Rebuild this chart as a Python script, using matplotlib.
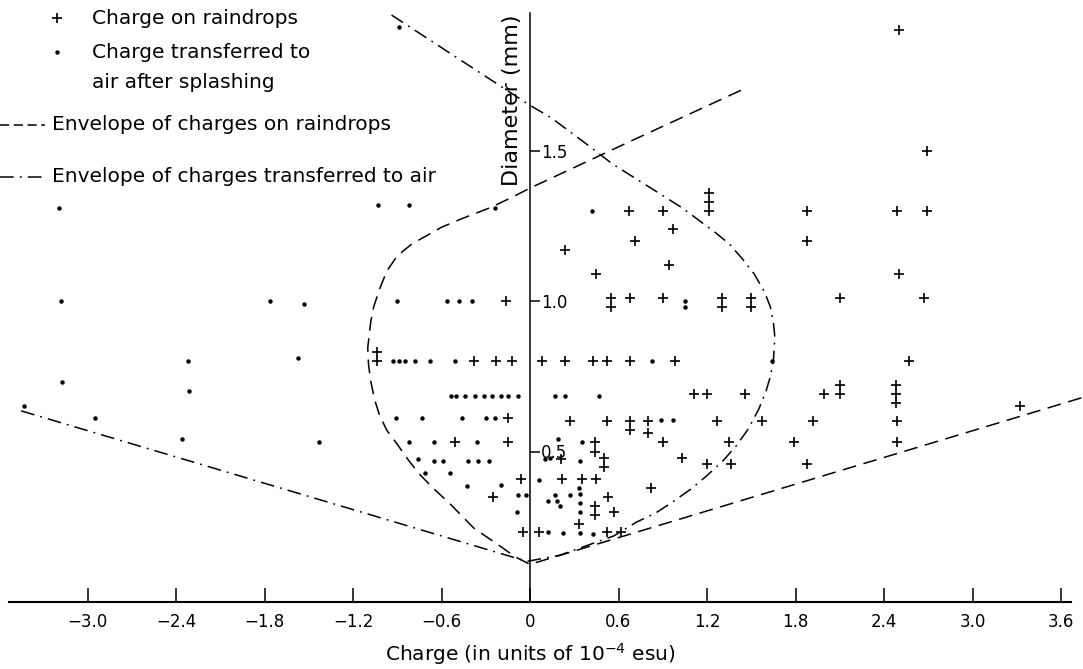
import matplotlib
matplotlib.use("Agg")
import matplotlib.pyplot as plt

# ---------------- data (charge in 1e-4 esu, diameter in mm) ----------------
raindrop_charge = [2.50, 2.69, 0.67, 0.90, 1.215, 1.215, 1.215, 1.88, 2.49, 2.69,
                   0.97, 0.71, 0.24, 1.88, 0.94, 0.45, 2.50,
                   -0.16, 0.55, 0.55, 0.68, 0.90, 1.30, 1.30, 1.50, 1.50, 2.10, 2.67,
                   -1.04, -1.04, -0.38, -0.23, -0.12, 0.08, 0.24, 0.43, 0.52, 0.68, 0.98, 2.57,
                   1.11, 1.20, 1.46, 1.99, 2.10, 2.10, 2.48, 2.48, 2.48,
                   -0.15, 0.27, 0.52, 0.68, 0.68, 0.80, 0.80, 1.27, 1.57, 1.92, 2.49, 3.32,
                   -0.51, -0.15, 0.44, 0.44, 0.90, 1.35, 1.79, 2.49,
                   1.03, 1.20, 1.36, 1.88, 0.50, 0.50, 0.21,
                   0.22, 0.35, 0.45, -0.06, 0.82, 0.53, 0.44, 0.44, 0.57, 0.33, -0.25,
                   -0.05, 0.06, 0.52, 0.62]
raindrop_diam = [1.90, 1.50, 1.30, 1.30, 1.36, 1.33, 1.30, 1.30, 1.30, 1.30,
                 1.24, 1.20, 1.17, 1.20, 1.12, 1.09, 1.09,
                 1.00, 1.01, 0.98, 1.01, 1.01, 1.01, 0.98, 1.01, 0.98, 1.01, 1.01,
                 0.83, 0.80, 0.80, 0.80, 0.80, 0.80, 0.80, 0.80, 0.80, 0.80, 0.80, 0.80,
                 0.69, 0.69, 0.69, 0.69, 0.69, 0.72, 0.72, 0.69, 0.66,
                 0.61, 0.60, 0.60, 0.60, 0.57, 0.60, 0.56, 0.60, 0.60, 0.60, 0.60, 0.65,
                 0.53, 0.53, 0.53, 0.50, 0.53, 0.53, 0.53, 0.53,
                 0.48, 0.46, 0.46, 0.46, 0.48, 0.45, 0.475,
                 0.41, 0.41, 0.41, 0.41, 0.38, 0.35, 0.32, 0.29, 0.30, 0.26, 0.35,
                 0.234, 0.234, 0.233, 0.233]

air_charge = [-0.89, -3.19, -1.03, -0.82, -0.24, 0.42,
              -3.18, -1.76, -1.53, -0.90, -0.56, -0.48, -0.39, 1.05, 1.05,
              -2.32, -1.57, -0.93, -0.89, -0.845, -0.78, -0.68, -0.51, 0.83, 1.64,
              -3.17, -2.31, -3.43, -2.95,
              -0.535, -0.50, -0.44, -0.37, -0.31, -0.26, -0.20, -0.15, -0.08, 0.17, 0.24, 0.47,
              -0.91, -0.73, -0.46, -0.30, -0.235, 0.89, 0.97,
              -2.36, -1.43, -0.82, -0.65, -0.36, 0.19, 0.35,
              -0.76, -0.65, -0.59, -0.42, -0.35, -0.28, 0.10, 0.135, 0.34,
              -0.71, -0.54, 0.06, -0.43, -0.20, -0.08, -0.03,
              0.17, 0.27, 0.33, 0.34, 0.34, 0.34, 0.12, 0.18, 0.20, -0.09,
              0.125, 0.226, 0.34, 0.425]
air_diam = [1.91, 1.31, 1.32, 1.32, 1.31, 1.30,
            1.00, 1.00, 0.99, 1.00, 1.00, 1.00, 1.00, 1.00, 0.98,
            0.80, 0.81, 0.80, 0.80, 0.80, 0.80, 0.80, 0.80, 0.80, 0.80,
            0.73, 0.70, 0.65, 0.61,
            0.686, 0.686, 0.686, 0.686, 0.686, 0.686, 0.686, 0.686, 0.686, 0.686, 0.686, 0.686,
            0.61, 0.61, 0.61, 0.61, 0.61, 0.605, 0.605,
            0.54, 0.53, 0.53, 0.53, 0.53, 0.54, 0.53,
            0.475, 0.47, 0.47, 0.47, 0.47, 0.47, 0.476, 0.48, 0.467,
            0.43, 0.43, 0.405, 0.385, 0.39, 0.355, 0.356,
            0.354, 0.356, 0.38, 0.36, 0.33, 0.30, 0.336, 0.336, 0.32, 0.30,
            0.233, 0.228, 0.23, 0.227]

# envelope of charges on raindrops (dashed)
env_drop_charge = [1.43, 0.70, 0.0, -0.12, -0.27, -0.48, -0.60, -0.69, -0.80, -0.90,
                   -0.97, -1.02, -1.06, -1.08, -1.10, -1.095, -1.08, -1.055, -1.02,
                   -0.97, -0.90, -0.83, -0.75, -0.65, -0.55, -0.38, -0.23, -0.10, 0.0, 3.75]
env_drop_diam = [1.70, 1.535, 1.375, 1.345, 1.31, 1.27, 1.245, 1.22, 1.19, 1.15,
                 1.10, 1.04, 0.98, 0.93, 0.845, 0.79, 0.735, 0.675, 0.62,
                 0.57, 0.524, 0.475, 0.425, 0.375, 0.33, 0.245, 0.195, 0.15, 0.125, 0.68]

# envelope of charges transferred to air (dash-dot)
env_air_charge = [-3.45, -0.02, 0.20, 0.40, 0.57, 0.72, 0.85, 0.96, 1.09, 1.20, 1.31,
                  1.40, 1.48, 1.55, 1.60, 1.63, 1.65, 1.66, 1.65, 1.63, 1.59, 1.52,
                  1.44, 1.35, 1.25, 1.14, 1.03, 0.82, 0.56, 0.36, 0.14, 0.0, -0.97]
env_air_diam = [0.635, 0.135, 0.155, 0.19, 0.22, 0.265, 0.295, 0.33, 0.375, 0.42, 0.47,
                0.52, 0.575, 0.64, 0.70, 0.75, 0.80, 0.88, 0.93, 0.98, 1.03, 1.09,
                1.14, 1.19, 1.23, 1.27, 1.31, 1.375, 1.455, 1.53, 1.61, 1.65, 1.96]

x_ticks = [-3.0, -2.4, -1.8, -1.2, -0.6, 0.0, 0.6, 1.2, 1.8, 2.4, 3.0, 3.6]
x_tick_labels = ["\u22123.0", "\u22122.4", "\u22121.8", "\u22121.2", "\u22120.6", "0",
                 "0.6", "1.2", "1.8", "2.4", "3.0", "3.6"]
y_ticks = [0.5, 1.0, 1.5]
y_tick_labels = ["0.5", "1.0", "1.5"]

legend_labels = ["Charge on raindrops", "Charge transferred to", "air after splashing",
                 "Envelope of charges on raindrops", "Envelope of charges transferred to air"]
x_label = r"Charge (in units of 10$^{-4}$ esu)"
y_label = "Diameter (mm)"

# ---------------- figure ----------------
plt.rcParams["font.family"] = ["DejaVu Sans"]
fig = plt.figure(figsize=(10.83, 6.69), dpi=100)
ax = fig.add_axes([0, 0, 1, 1])
ax.set_xlim(-530 / 147.5, 553 / 147.5)
ax.set_ylim(-67 / 301, 602 / 301)

dash_drop = (9, 5)
dash_air = (9, 4, 1.2, 4)

ax.plot(env_drop_charge, env_drop_diam, color="black", lw=1.1, dashes=dash_drop)
ax.plot(env_air_charge, env_air_diam, color="black", lw=1.1, dashes=dash_air)

ax.plot(raindrop_charge, raindrop_diam, linestyle="none", marker="+",
        color="black", markersize=7, markeredgewidth=1.2)
ax.plot(air_charge, air_diam, linestyle="none", marker="o",
        color="black", markersize=3.2, markeredgewidth=0)

# axes through origin
ax.spines["top"].set_visible(False)
ax.spines["left"].set_visible(False)
ax.spines["bottom"].set_position(("data", 0))
ax.spines["right"].set_position(("data", 0))
ax.spines["bottom"].set_bounds(-3.53, 3.67)
ax.spines["right"].set_bounds(0, 1.957)
ax.spines["bottom"].set_linewidth(1.5)
ax.spines["right"].set_linewidth(1.1)
ax.xaxis.set_ticks_position("bottom")
ax.yaxis.set_ticks_position("right")
ax.set_xticks(x_ticks)
ax.set_xticklabels(x_tick_labels)
ax.set_yticks(y_ticks)
ax.set_yticklabels(y_tick_labels)
ax.tick_params(axis="x", direction="in", length=10, width=1.1, pad=8, labelsize=12)
ax.tick_params(axis="y", direction="out", length=7, width=1.1, pad=1, labelsize=12)

ax.text(530 / 1083, 1 - 654 / 669, x_label, transform=ax.transAxes, ha="center",
        va="center", fontsize=14.5)
ax.text(512 / 1083, 1 - 100 / 669, y_label, transform=ax.transAxes, rotation=90,
        ha="center", va="center", fontsize=16)

# ---------------- legend (manual layout) ----------------
tA = ax.transAxes
fs_leg = 14.5
ax.plot([57 / 1083], [1 - 18 / 669], transform=tA, marker="+", color="black",
        markersize=7, markeredgewidth=1.2, linestyle="none")
ax.text(92 / 1083, 1 - 18 / 669, legend_labels[0], transform=tA, va="center", fontsize=fs_leg)
ax.plot([57 / 1083], [1 - 52 / 669], transform=tA, marker="o", color="black",
        markersize=3.2, markeredgewidth=0, linestyle="none")
ax.text(92 / 1083, 1 - 53 / 669, legend_labels[1], transform=tA, va="center", fontsize=fs_leg)
ax.text(92 / 1083, 1 - 82 / 669, legend_labels[2], transform=tA, va="center", fontsize=fs_leg)
ax.plot([0.0, 45 / 1083], [1 - 125 / 669] * 2, transform=tA, color="black", lw=1.1,
        dashes=(6, 3))
ax.text(52 / 1083, 1 - 125 / 669, legend_labels[3], transform=tA, va="center", fontsize=fs_leg)
ax.plot([0.0, 45 / 1083], [1 - 177 / 669] * 2, transform=tA, color="black", lw=1.1,
        dashes=(9, 4, 1.2, 4))
ax.text(52 / 1083, 1 - 177 / 669, legend_labels[4], transform=tA, va="center", fontsize=fs_leg)

fig.savefig("out.png", dpi=100)
